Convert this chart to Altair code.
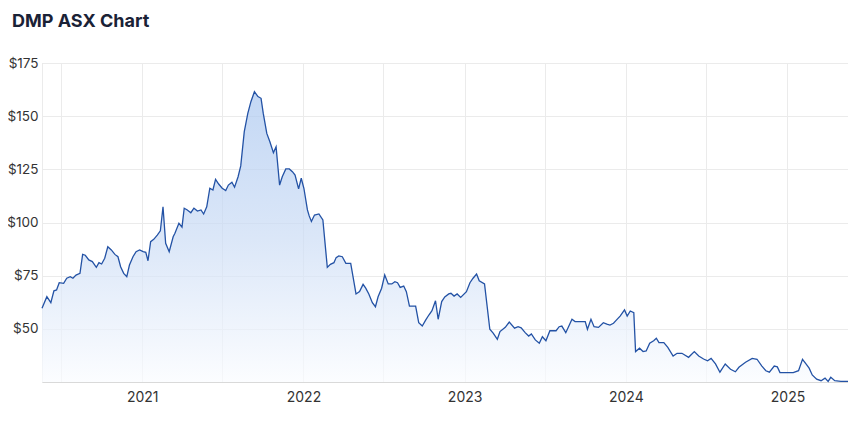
import altair as alt
import pandas as pd

title_text = "DMP ASX Chart"

dates = [
    "2020-05-19", "2020-05-30", "2020-06-08", "2020-06-15", "2020-06-21", "2020-06-27",
    "2020-07-07", "2020-07-14", "2020-07-22", "2020-07-28", "2020-08-04", "2020-08-13",
    "2020-08-19", "2020-08-25", "2020-09-02", "2020-09-10", "2020-09-19", "2020-09-25",
    "2020-10-01", "2020-10-08", "2020-10-15", "2020-10-23", "2020-10-31", "2020-11-07",
    "2020-11-13", "2020-11-20", "2020-11-27", "2020-12-03", "2020-12-11", "2020-12-18",
    "2020-12-26",
    "2021-01-03", "2021-01-09", "2021-01-14", "2021-01-20", "2021-01-27", "2021-02-04",
    "2021-02-11", "2021-02-17", "2021-02-23", "2021-03-03", "2021-03-12", "2021-03-16",
    "2021-03-25", "2021-04-01", "2021-04-06", "2021-04-13", "2021-04-21", "2021-04-28",
    "2021-05-06", "2021-05-14", "2021-05-20", "2021-05-27", "2021-06-03", "2021-06-10",
    "2021-06-16", "2021-06-23", "2021-07-01", "2021-07-09", "2021-07-15", "2021-07-23",
    "2021-07-29", "2021-08-06", "2021-08-12", "2021-08-20", "2021-08-28", "2021-09-04",
    "2021-09-12", "2021-09-20", "2021-09-27", "2021-10-02", "2021-10-10", "2021-10-17",
    "2021-10-25", "2021-10-31", "2021-11-08", "2021-11-14", "2021-11-22", "2021-11-30",
    "2021-12-07", "2021-12-13", "2021-12-21", "2021-12-27",
    "2022-01-02", "2022-01-10", "2022-01-14", "2022-01-19", "2022-01-26", "2022-02-05",
    "2022-02-14", "2022-02-24", "2022-03-03", "2022-03-11", "2022-03-16", "2022-03-22",
    "2022-03-30", "2022-04-07", "2022-04-18", "2022-04-30", "2022-05-08", "2022-05-16",
    "2022-05-22", "2022-05-29", "2022-06-06", "2022-06-13", "2022-06-19", "2022-06-27",
    "2022-07-04", "2022-07-12", "2022-07-20", "2022-07-27", "2022-08-02", "2022-08-08",
    "2022-08-16", "2022-08-22", "2022-08-29", "2022-09-12", "2022-09-19", "2022-09-27",
    "2022-10-05", "2022-10-12", "2022-10-19", "2022-10-27", "2022-11-02", "2022-11-10",
    "2022-11-17", "2022-11-26", "2022-12-01", "2022-12-08", "2022-12-15", "2022-12-23",
    "2023-01-05", "2023-01-13", "2023-01-20", "2023-01-28", "2023-02-03", "2023-02-15",
    "2023-02-27", "2023-03-07", "2023-03-16", "2023-03-22", "2023-04-03", "2023-04-12",
    "2023-04-24", "2023-05-02", "2023-05-09", "2023-05-18", "2023-05-26", "2023-06-01",
    "2023-06-10", "2023-06-19", "2023-06-26", "2023-07-04", "2023-07-13", "2023-07-27",
    "2023-08-03", "2023-08-09", "2023-08-18", "2023-09-01", "2023-09-08", "2023-10-01",
    "2023-10-06", "2023-10-14", "2023-10-21", "2023-10-31", "2023-11-11", "2023-11-19",
    "2023-11-26", "2023-12-04", "2023-12-11", "2023-12-19", "2023-12-29",
    "2024-01-04", "2024-01-11", "2024-01-19", "2024-01-23", "2024-02-01", "2024-02-09",
    "2024-02-16", "2024-02-24", "2024-03-04", "2024-03-10", "2024-03-16", "2024-03-27",
    "2024-04-05", "2024-04-17", "2024-04-26", "2024-05-07", "2024-05-22", "2024-06-04",
    "2024-06-14", "2024-06-25", "2024-07-04", "2024-07-12", "2024-07-22", "2024-08-01",
    "2024-08-13", "2024-08-25", "2024-09-05", "2024-09-13", "2024-09-28", "2024-10-13",
    "2024-10-24", "2024-11-04", "2024-11-13", "2024-11-21", "2024-12-02", "2024-12-09",
    "2024-12-15", "2024-12-28",
    "2025-01-14", "2025-01-26", "2025-02-04", "2025-02-11", "2025-02-19", "2025-02-26",
    "2025-03-08", "2025-03-18", "2025-03-27", "2025-04-03", "2025-04-09", "2025-04-18",
    "2025-05-02", "2025-05-18",
]

prices = [
    59.7, 65.1, 62.3, 67.9, 68.3, 71.7,
    71.4, 73.8, 74.5, 73.8, 75.3, 76.1,
    85.0, 84.6, 82.4, 81.6, 78.9, 81.1,
    80.5, 83.2, 88.6, 87.1, 85.0, 83.9,
    79.2, 76.1, 74.5, 80.0, 83.9, 86.3,
    87.1,
    86.3, 86.0, 82.0, 91.0, 92.1, 94.1,
    96.1, 107.4, 90.2, 86.3, 93.3, 94.9,
    99.6, 97.8, 106.7, 105.9, 104.6, 106.7,
    105.4, 105.9, 104.0, 107.4, 116.1, 115.3,
    120.3, 118.1, 116.1, 115.0, 117.6, 118.9,
    116.6, 121.5, 126.6, 142.7, 151.3, 156.8,
    161.5, 159.2, 158.4, 151.3, 141.9, 138.0,
    132.8, 135.6, 117.6, 121.5, 125.2, 125.2,
    123.9, 122.3, 115.8, 120.8,
    116.1, 105.9, 103.1, 100.5, 103.5, 104.0,
    101.2, 78.9, 80.3, 81.1, 83.5, 84.3,
    83.9, 80.8, 80.8, 66.4, 67.5, 70.9,
    69.1, 66.4, 62.3, 60.4, 65.1, 69.1,
    75.3, 71.1, 71.1, 72.2, 71.7, 69.5,
    70.1, 67.5, 60.7, 60.7, 52.9, 51.3,
    54.2, 56.5, 58.5, 63.2, 54.5, 62.8,
    65.0, 66.4, 66.7, 65.4, 66.4, 64.8,
    67.5, 71.7, 73.8, 75.8, 72.6, 71.1,
    49.8, 47.9, 45.1, 48.7, 50.7, 53.2,
    50.3, 51.0, 50.5, 48.2, 46.6, 47.6,
    44.8, 43.2, 46.3, 44.4, 49.1, 49.1,
    51.0, 51.3, 48.2, 54.5, 53.4, 53.4,
    49.8, 54.5, 51.0, 50.7, 52.9, 52.2,
    51.8, 52.6, 54.2, 56.0, 58.9,
    56.0, 58.4, 57.6, 39.3, 40.9, 39.3,
    39.6, 43.2, 44.4, 45.6, 43.5, 43.5,
    41.3, 37.2, 38.5, 38.5, 36.6, 39.3,
    37.2, 35.8, 35.0, 36.1, 33.5, 29.6,
    33.5, 31.0, 29.8, 31.9, 34.3, 36.1,
    35.7, 32.5, 30.3, 29.6, 32.5, 32.1,
    29.4, 29.4,
    29.4, 30.3, 35.7, 33.8, 31.5, 28.3,
    26.3, 25.6, 26.8, 25.3, 27.2, 25.6,
    25.3, 25.3,
]

y_ticks = [50, 75, 100, 125, 150, 175]
y_min = 25
y_max = 175
x_grid = [(2020, 7), (2021, 1), (2021, 7), (2022, 1), (2022, 7), (2023, 1),
          (2023, 7), (2024, 1), (2024, 7), (2025, 1)]

df = pd.DataFrame({"date": dates, "price": prices})

grid_color = "#ebebeb"
label_color = "#333333"
font = "Inter"

x_enc = alt.X(
    "date:T",
    scale=alt.Scale(
        type="utc",
        domain=[alt.DateTime(year=2020, month=5, date=19, utc=True),
                alt.DateTime(year=2025, month=5, date=18, utc=True)],
        nice=False,
    ),
    axis=alt.Axis(
        title=None,
        values=[alt.DateTime(year=y, month=m, date=1, utc=True) for y, m in x_grid],
        labelExpr="utcFormat(datum.value, '%m') == '01' ? utcFormat(datum.value, '%Y') : ''",
        grid=True,
        gridColor=grid_color,
        ticks=False,
        domainColor="#d9d9d9",
        labelColor=label_color,
        labelFont=font,
        labelFontSize=14,
        labelPadding=8,
        labelFlush=False,
    ),
)

y_enc = alt.Y(
    "price:Q",
    scale=alt.Scale(domain=[y_min, y_max], nice=False, zero=False),
    axis=alt.Axis(
        title=None,
        values=y_ticks,
        format="$,.0f",
        grid=True,
        gridColor=grid_color,
        ticks=False,
        domainColor=grid_color,
        labelColor=label_color,
        labelFont=font,
        labelFontSize=13.5,
        labelPadding=4,
    ),
)

area = alt.Chart(df).mark_area(
    interpolate="linear",
    line={"color": "#2352a5", "strokeWidth": 1.3},
    color=alt.Gradient(
        gradient="linear",
        stops=[
            alt.GradientStop(color="#aac7f0", offset=0),
            alt.GradientStop(color="#cbdcf5", offset=0.5),
            alt.GradientStop(color="#fafcff", offset=1),
        ],
        x1=1, x2=1, y1=0, y2=1,
    ),
).encode(x=x_enc, y=y_enc, y2=alt.datum(y_min))

title = alt.Chart(pd.DataFrame({"t": [title_text]})).mark_text(
    align="left",
    baseline="alphabetic",
    font=font,
    fontSize=18,
    fontWeight="bold",
    color="#1a2236",
).encode(
    x=alt.value(-30),
    y=alt.value(-36),
    text="t:N",
)

chart = alt.layer(area, title).properties(
    width=806,
    height=319,
    autosize=alt.AutoSizeParams(type="none"),
    padding={"left": 34, "top": 55, "right": 0, "bottom": 30},
).configure_view(stroke=None).configure(background="white")

chart.save("out.html", embed_options={"renderer": "svg", "actions": False})
